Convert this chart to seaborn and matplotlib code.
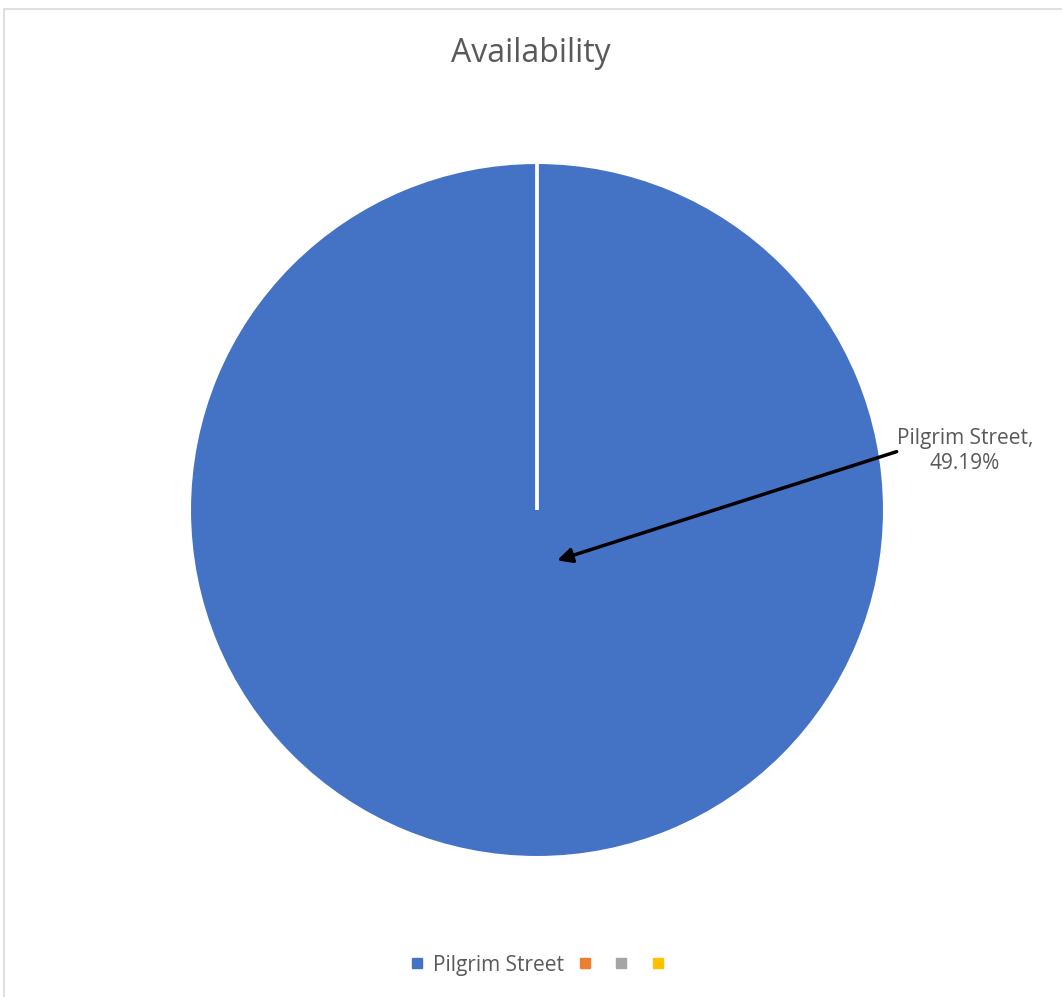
import matplotlib.pyplot as plt
import seaborn as sns
from matplotlib.lines import Line2D
from matplotlib.patches import Rectangle

# Data
categories = ['Pilgrim Street', '', '', '']
values = [0.4919, 0, 0, 0]
colors = ['#4472C4', '#ED7D31', '#A5A5A5', '#FFC000']
title = 'Availability'
label_text = 'Pilgrim Street,\n49.19%'

sns.set_theme(style='white')
plt.rcParams['font.family'] = ['Open Sans', 'DejaVu Sans']
text_color = '#595959'

W, H = 1062, 997
fig = plt.figure(figsize=(W / 100, H / 100), dpi=100)
ax = fig.add_axes([0, 0, 1, 1])

# pie centre and radius in pixels
cx, cy, r = 537, 510, 347.5

wedges, _ = ax.pie(values, colors=colors, startangle=90, counterclock=False,
                   wedgeprops=dict(edgecolor='white', linewidth=2.2))
ax.set_xlim(-cx / r, (W - cx) / r)
ax.set_ylim(-(H - cy) / r, cy / r)
ax.set_aspect('auto')
ax.axis('off')

# data label with arrow
ax.annotate('', xy=(0.058, -0.145), xytext=(1.035, 0.168),
            arrowprops=dict(arrowstyle='-|>', color='black', lw=2.5,
                            mutation_scale=22, shrinkA=0, shrinkB=0))
ax.text(1.232, 0.17, label_text, ha='center', va='center',
        fontsize=15, color=text_color, linespacing=1.2)

fig.text(0.5, 1 - 53 / H, title, ha='center', va='center',
         fontsize=23, color=text_color)

handles = [Line2D([], [], marker='s', linestyle='none', markersize=7,
                  markerfacecolor=c, markeredgecolor=c) for c in colors]
fig.legend(handles, categories, loc='center', bbox_to_anchor=(0.51, 1 - 965 / H),
           ncol=4, frameon=False, fontsize=15, handlelength=0.7,
           handletextpad=0.4, columnspacing=0.66, labelcolor=text_color)

# chart area border
fig.patches.append(Rectangle((3.5 / W, -0.05), 1.2, 1 - 9.5 / H + 0.05,
                             transform=fig.transFigure, fill=False,
                             edgecolor='#D9D9D9', linewidth=1.2))

fig.savefig('out.png', dpi=100)
